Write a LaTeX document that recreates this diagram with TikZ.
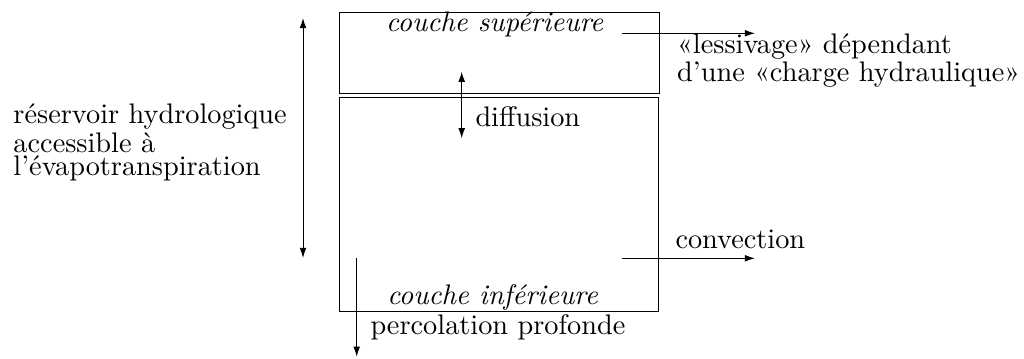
\documentclass[tikz,border=0pt]{standalone}
\usepackage{fontspec}
\usetikzlibrary{arrows.meta}

\tikzset{
  fleche/.style={-{Latex[length=3.6pt,width=2.4pt]}},
  bifleche/.style={{Latex[length=3.6pt,width=2.4pt]}-{Latex[length=3.6pt,width=2.4pt]}},
  titre/.style={inner sep=0pt, anchor=base, font=\itshape},
  etiquette/.style={inner sep=0pt, anchor=base west, align=left,
    font={\linespread{0.7}\selectfont}},
}

\begin{document}
\begin{tikzpicture}[x=0.3534pt, y=-0.3534pt, line width=0.35pt]
\useasboundingbox (0,0) rectangle (1024,359);

% draw the two layers
\draw (339,13) rectangle (659,94);
\draw (339,98) rectangle (658,311);

% names of the layers
\node[titre] (sup) at (494.5,32) {couche supérieure};
\node[titre] (inf) at (492.5,305) {couche inférieure};

% labels (base = last line)
\node[etiquette] (reservoir) at (13,176) {réservoir hydrologique\\accessible à\\l'évapotranspiration};
\node[etiquette] (lessivage) at (676.7,82) {«lessivage» dépendant\\d'une «charge hydraulique»};
\node[etiquette] (diffusion) at (475,126.7) {diffusion};
\node[etiquette] (convection) at (675,249) {convection};
\node[etiquette] (percolation) at (370,335) {percolation profonde};

% end points of the arrows
\coordinate (resH) at (303,18);
\coordinate (resB) at (303,258);
\coordinate (lesA) at (622,33.3);
\coordinate (lesB) at (755,33.3);
\coordinate (difH) at (461.7,71.7);
\coordinate (difB) at (461.7,138.3);
\coordinate (conA) at (622,258.3);
\coordinate (conB) at (755,258.3);
\coordinate (perA) at (356.7,258.3);
\coordinate (perB) at (356.7,356.7);

% arrows
\draw[bifleche] (resH) -- (resB);
\draw[bifleche] (difH) -- (difB);
\draw[fleche] (lesA) -- (lesB);
\draw[fleche] (conA) -- (conB);
\draw[fleche] (perA) -- (perB);
\end{tikzpicture}
\end{document}
